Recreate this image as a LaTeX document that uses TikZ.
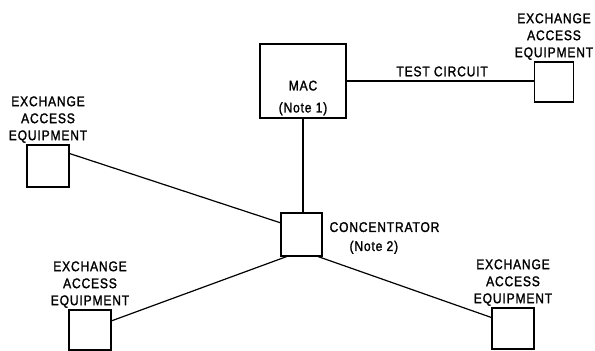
\documentclass[tikz,border=0pt]{standalone}
\usepackage{fontspec}
\usepackage{tikz}
\usetikzlibrary{calc,positioning}
\newfontfamily\eqfont[FakeStretch=0.86,LetterSpace=6,FakeBold=1.6]{Liberation Sans}

\begin{document}
\begin{tikzpicture}[x=1pt,y=-1pt,line width=1.2pt,
	unitbox/.style={draw, minimum width=42pt, minimum height=42pt, inner sep=0pt},
	eqlabel/.style={align=center, inner sep=0pt, font=\eqfont\fontsize{14}{17}\selectfont}]
	\useasboundingbox (0,0) rectangle (595,351);

	% MAC and the test circuit
	\node [draw, minimum width=86pt, minimum height=74pt, inner sep=0pt] (mac) at (303,81) {};
	\node [eqlabel, font=\eqfont\fontsize{14}{22}\selectfont] (mactext) at (303,98) {MAC\\(Note 1)};
	\node [unitbox, minimum width=39pt, minimum height=40pt] (eqtr) at (554,82) {};
	\node [eqlabel, above=1pt of eqtr] (eqtrlbl) {EXCHANGE\\ACCESS\\EQUIPMENT};
	\draw (mac.east) -- node [eqlabel, above=4pt, pos=0.51] (testlbl) {TEST CIRCUIT} (mac.east -| eqtr.west);

	% Concentrator
	\node [unitbox, minimum width=41pt, minimum height=43pt] (conc) at (301.5,234.5) {};
	\node [eqlabel, align=left, anchor=west] (conclbl) at (329,238) {CONCENTRATOR\\[2pt]\hspace*{20pt}(Note 2)};
	\draw (mac.south) -- (mac.south |- conc.north);

	% Exchange access equipment round the concentrator
	\node [unitbox] (eqtl) at (48,166) {};
	\node [eqlabel, above=1pt of eqtl] (eqtllbl) {EXCHANGE\\ACCESS\\EQUIPMENT};
	\node [unitbox, minimum height=40pt] (eqbl) at (90,330) {};
	\node [eqlabel, above=1pt of eqbl] (eqbllbl) {EXCHANGE\\ACCESS\\EQUIPMENT};
	\node [unitbox, minimum height=41pt] (eqbr) at (513,328.5) {};
	\node [eqlabel, above=1pt of eqbr] (eqbrlbl) {EXCHANGE\\ACCESS\\EQUIPMENT};

	\draw (eqtl.30) -- (conc.151);
	\draw (eqbl.23) -- (conc.236);
	\draw (eqbr.153) -- (conc.307);
\end{tikzpicture}
\end{document}
